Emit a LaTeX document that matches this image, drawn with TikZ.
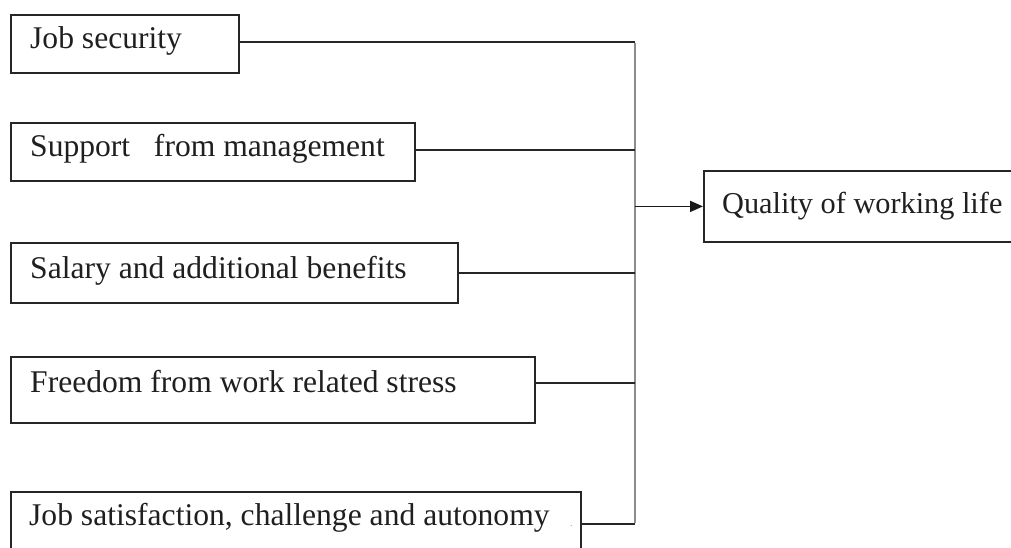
\documentclass[tikz,border=0pt]{standalone}
\usepackage{fontspec}
\setmainfont{Liberation Serif}
\usetikzlibrary{arrows.meta,calc}
\begin{document}
\begin{tikzpicture}[x=1pt,y=-1pt,
  factor/.style={draw=black!85,line width=1.8pt,rectangle,inner sep=0pt,anchor=north west},
  lbl/.style={anchor=base west,inner sep=0pt,font=\fontsize{31.6}{36}\selectfont,text=black!88},
  link/.style={draw=black!85,line width=1.8pt},
  spineline/.style={draw=black!45,line width=2.6pt},
  arr/.style={draw=black!90,line width=1.8pt,-{Triangle[length=13pt,width=11pt]}}]
\useasboundingbox (0,0) rectangle (1011,548);
% boxes
\node[factor,minimum width=228pt,minimum height=58pt] (b1) at (10,14) {};
\node[factor,minimum width=404pt,minimum height=58pt] (b2) at (10,122) {};
\node[factor,minimum width=447pt,minimum height=60pt] (b3) at (10,242) {};
\node[factor,minimum width=524pt,minimum height=66pt] (b4) at (10,356) {};
\node[factor,minimum width=570pt,minimum height=66pt] (b5) at (10,491) {};
\node[factor,minimum width=330pt,minimum height=71pt] (q) at (703,170) {};
% labels
\node[lbl] (t1) at (30,49) {Job security};
\node[lbl] (t2) at (30,157) {Support\ \ \ from management};
\node[lbl] (t3) at (30,278) {Salary and additional benefits};
\node[lbl] (t4) at (30,392) {Freedom from work related stress};
\node[lbl] (t5) at (29,525) {Job satisfaction, challenge and autonomy};
\node[anchor=base west,inner sep=0pt,font=\fontsize{10}{12}\selectfont,text=black!40] (dot) at (570,526) {.};
\node[lbl,font=\fontsize{30.3}{36}\selectfont] (tq) at (722,213) {Quality of working life};
% spine
\coordinate (top) at (635,42);
\coordinate (bot) at (635,524);
\draw[spineline] ([yshift=-1.3pt]top) -- ([yshift=1.3pt]bot);
% connector start points on box edges
\coordinate (c1) at ($(b1.north east)+(0,28)$);
\coordinate (c2) at ($(b2.north east)+(0,28)$);
\coordinate (c3) at ($(b3.north east)+(0,31)$);
\coordinate (c4) at ($(b4.north east)+(0,27)$);
\coordinate (c5) at ($(b5.north east)+(0,33)$);
\draw[link] (c1) -- (c1 -| top);
\draw[link] (c2) -- (c2 -| top);
\draw[link] (c3) -- (c3 -| top);
\draw[link] (c4) -- (c4 -| top);
\draw[link] (c5) -- (c5 -| bot);
\draw[arr] (q.west -| top) -- (q.west);
\end{tikzpicture}
\end{document}
